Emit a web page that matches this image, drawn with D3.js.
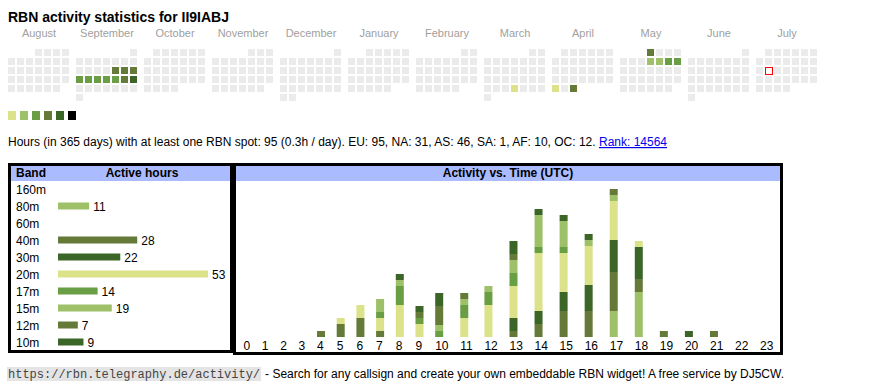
<!DOCTYPE html>
<html><head><meta charset="utf-8">
<script src="https://cdn.jsdelivr.net/npm/d3@7"></script>
<style>
body{margin:0;background:#fff}
svg{display:block;font-family:"Liberation Sans",Arial,sans-serif}
</style>
</head><body>
<svg id="c" width="870" height="390"></svg>
<script>
// ---------- data ----------
const title = "RBN activity statistics for II9IABJ";
const monthNames = ["August","September","October","November","December","January","February","March","April","May","June","July"];
const monthStart = ["2024-08","2024-09","2024-10","2024-11","2024-12","2025-01","2025-02","2025-03","2025-04","2025-05","2025-06","2025-07"];
const levelColors = ["#dce28a","#9dc068","#6a9e45","#657a38","#3b6627","#000000"];
const activeDays = ["2024-09-13","2024-09-14","2024-09-15","2024-09-16","2024-09-17","2024-09-18","2024-09-19","2024-09-20","2024-09-21","2024-09-22","2025-03-27","2025-04-28","2025-04-30","2025-05-01","2025-05-08","2025-05-09","2025-05-10","2025-05-11"];
const activeLevels = [4,4,4,3,3,3,3,3,4,5,1,1,4,4,2,2,3,3];
const today = "2025-07-15";

const statsText = "Hours (in 365 days) with at least one RBN spot: 95 (0.3h / day). EU: 95, NA: 31, AS: 46, SA: 1, AF: 10, OC: 12. ";
const rankText = "Rank: 14564";

const bands = ["160m","80m","60m","40m","30m","20m","17m","15m","12m","10m"];
const bandHours = [0,11,0,28,22,53,14,19,7,9];
const bandColors = ["#6a9e45","#9dc068","#dce28a","#657a38","#3b6627","#dce28a","#6a9e45","#9dc068","#657a38","#3b6627"];

const hourLabels = ["0","1","2","3","4","5","6","7","8","9","10","11","12","13","14","15","16","17","18","19","20","21","22","23"];
const h160m = [0,0,0,0,0,0,0,0,0,0,0,0,0,0,0,0,0,0,0,0,0,0,0,0];
const h80m  = [0,0,0,0,0,0,0,0,0,0,0,0,0,0,0,0,0,4,7,0,0,0,0,0];
const h60m  = [0,0,0,0,0,0,0,0,0,0,0,0,0,0,0,0,0,0,0,0,0,0,0,0];
const h40m  = [0,0,0,0,1,2,3,1,0,0,0,0,0,1,2,4,4,6,2,1,0,1,0,0];
const h30m  = [0,0,0,0,0,0,0,0,0,0,0,0,0,2,2,3,4,5,5,0,1,0,0,0];
const h20m  = [0,0,0,0,0,1,2,2,5,2,0,3,5,5,9,6,6,6,1,0,0,0,0,0];
const h17m  = [0,0,0,0,0,0,0,1,3,1,1,2,2,2,1,1,0,0,0,0,0,0,0,0];
const h15m  = [0,0,0,0,0,0,0,2,1,0,1,1,1,2,5,4,1,1,0,0,0,0,0,0];
const h12m  = [0,0,0,0,0,0,0,0,0,1,3,1,0,1,0,0,0,1,0,0,0,0,0,0];
const h10m  = [0,0,0,0,0,0,0,0,1,1,2,0,0,2,1,1,1,0,0,0,0,0,0,0];
const hourly = [h160m,h80m,h60m,h40m,h30m,h20m,h17m,h15m,h12m,h10m];

const footUrl = "https://rbn.telegraphy.de/activity/";
const footText = "- Search for any callsign and create your own embeddable RBN widget! A free service by DJ5CW.";

// ---------- drawing ----------
const svg = d3.select("#c");
const parse = d3.timeParse("%Y-%m-%d");
const fmt = d3.timeFormat("%Y-%m-%d");

svg.append("text").attr("x",8).attr("y",22).attr("font-size",14).attr("font-weight","bold").attr("fill","#000").text(title);

// calendar
const cell = 7, pitch = 9, monthPitch = 68, calX = 8, calY = 49;
const levelByDay = new Map(activeDays.map((d,i)=>[d,activeLevels[i]]));
const mx = d3.scaleLinear().domain([0,1]).range([calX, calX+monthPitch]);
monthStart.forEach((m,i)=>{
  const first = parse(m+"-01");
  const days = d3.timeDays(first, d3.timeMonth.offset(first,1));
  const off = (first.getDay()+6)%7;
  const g = svg.append("g");
  g.append("text").attr("x", mx(i)+31).attr("y",37).attr("text-anchor","middle")
    .attr("font-size",11).attr("fill","#a0a0a0").text(monthNames[i]);
  const pos = d=>{const k=d.getDate()-1+off; return [mx(i)+(k%7)*pitch, calY+Math.floor(k/7)*pitch];};
  g.selectAll("rect").data(days.filter(d=>fmt(d)!==today)).join("rect")
    .attr("x", d=>pos(d)[0]).attr("y", d=>pos(d)[1])
    .attr("width",cell).attr("height",cell)
    .attr("fill", d=>{const l=levelByDay.get(fmt(d)); return l?levelColors[l-1]:"#ebebeb";});
  g.selectAll("rect.today").data(days.filter(d=>fmt(d)===today)).join("rect").attr("class","today")
    .attr("x", d=>pos(d)[0]+0.5).attr("y", d=>pos(d)[1]+0.5)
    .attr("width",cell).attr("height",cell)
    .attr("fill","#fff").attr("stroke","#ff0000").attr("stroke-width",1);
});

// legend
svg.append("g").selectAll("rect").data(levelColors).join("rect")
  .attr("x",(d,i)=>8+i*12).attr("y",111).attr("width",8).attr("height",9).attr("fill",d=>d);

// stats line
const st = svg.append("text").attr("x",8).attr("y",146).attr("font-size",12).attr("fill","#000");
st.append("tspan").text(statsText);
st.append("tspan").attr("fill","#0000ee").attr("text-decoration","underline").text(rankText);

// band box
svg.append("rect").attr("x",10).attr("y",165).attr("width",221).attr("height",16).attr("fill","#aabbff");
svg.append("rect").attr("x",9.5).attr("y",164.5).attr("width",222).attr("height",187)
  .attr("fill","none").attr("stroke","#000").attr("stroke-width",3);
svg.append("text").attr("x",16).attr("y",177).attr("font-size",12).attr("font-weight","bold").text("Band");
svg.append("text").attr("x",142).attr("y",177).attr("font-size",12).attr("font-weight","bold").attr("text-anchor","middle").text("Active hours");

const by = d3.scalePoint().domain(bands).range([189,342]);
const bx = d3.scaleLinear().domain([0,d3.max(bandHours)]).range([0,150]);
const rows = svg.append("g").selectAll("g").data(bands).join("g");
rows.append("text").attr("x",16).attr("y",d=>by(d)+4.5).attr("font-size",12).text(d=>d);
rows.filter((d,i)=>bandHours[i]>0).append("rect")
  .attr("x",58).attr("y",d=>by(d)-3.5).attr("height",7)
  .attr("width",d=>bx(bandHours[bands.indexOf(d)]))
  .attr("fill",d=>bandColors[bands.indexOf(d)]);
rows.filter((d,i)=>bandHours[i]>0).append("text")
  .attr("x",d=>58+bx(bandHours[bands.indexOf(d)])+4).attr("y",d=>by(d)+4.5)
  .attr("font-size",12).text(d=>bandHours[bands.indexOf(d)]);

// activity box
svg.append("rect").attr("x",236).attr("y",165).attr("width",545).attr("height",16).attr("fill","#aabbff");
svg.append("rect").attr("x",234.5).attr("y",164.5).attr("width",547).attr("height",189)
  .attr("fill","none").attr("stroke","#000").attr("stroke-width",3);
svg.append("text").attr("x",508).attr("y",177).attr("font-size",12).attr("font-weight","bold")
  .attr("text-anchor","middle").text("Activity vs. Time (UTC)");

const totals = hourLabels.map((h,j)=>d3.sum(hourly,a=>a[j]));
const hy = d3.scaleLinear().domain([0,d3.max(totals)]).range([0,150]);
const barW = 8, pad = 11.7, base = 337;
const lab = svg.append("g").selectAll("text").data(hourLabels).join("text")
  .attr("y",350).attr("font-size",12).text(d=>d);
const widths = [];
lab.each(function(d,j){ widths[j] = Math.max(this.getComputedTextLength(), totals[j]>0?barW:0) + pad; });
const starts = [];
let acc = 0;
widths.forEach((w,j)=>{ starts[j]=acc; acc+=w; });
const x0 = 317 - starts[4];
lab.attr("x",(d,j)=>x0+starts[j]);

const segs = [];
hourLabels.forEach((h,j)=>{
  let y = base;
  hourly.forEach((arr,b)=>{
    const v = arr[j];
    if(v>0){
      const hh = Math.floor(hy(v));
      y -= hh;
      segs.push({x:x0+starts[j], y:y, h:hh, c:bandColors[b]});
    }
  });
});
svg.append("g").selectAll("rect").data(segs).join("rect")
  .attr("x",d=>d.x).attr("y",d=>d.y).attr("width",barW).attr("height",d=>d.h).attr("fill",d=>d.c);

// footer
const fg = svg.append("g");
const bg = fg.append("rect").attr("x",7).attr("y",367).attr("height",14).attr("fill","#e4e4e4");
const fu = fg.append("text").attr("x",8).attr("y",378).attr("font-family","'Liberation Mono','Courier New',monospace")
  .attr("font-size",12).attr("fill","#444").text(footUrl);
const fw = fu.node().getComputedTextLength();
bg.attr("width",fw+2);
fg.append("text").attr("x",8+fw+5).attr("y",378).attr("font-size",12).attr("fill","#000").text(footText);
</script>
</body></html>
